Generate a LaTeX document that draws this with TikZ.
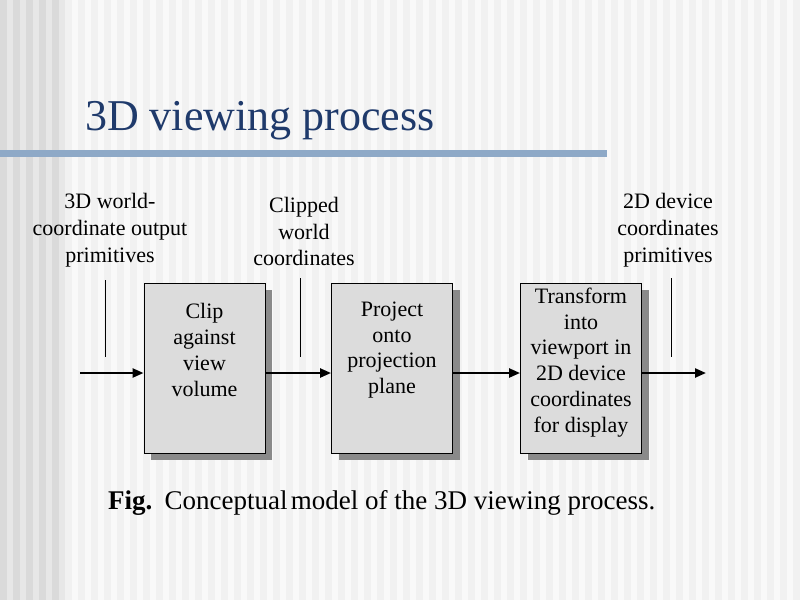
\documentclass[tikz,border=0pt]{standalone}
\usepackage{fontspec}
\setmainfont{Liberation Serif}
\usetikzlibrary{arrows.meta,shadows}
\definecolor{titleblue}{HTML}{1F3A6B}
\definecolor{rulerblue}{HTML}{8EA9C7}
\definecolor{boxfill}{HTML}{DCDCDC}
\definecolor{shadowgray}{HTML}{8A8A8A}
\definecolor{bgA}{HTML}{F1F1F1}
\definecolor{bgB}{HTML}{F9F9F9}
\definecolor{bgC}{HTML}{DADADA}
\definecolor{bgD}{HTML}{E7E7E7}
\tikzset{
  stagebox/.style={draw=black, line width=0.9pt, fill=boxfill, minimum width=121pt, minimum height=170pt, inner sep=0pt,
    drop shadow={shadow xshift=7pt, shadow yshift=-7pt, fill=shadowgray, opacity=1}},
  boxtext/.style={align=center, inner sep=0pt, font=\fontsize{22}{25.8}\selectfont},
  labeltext/.style={align=center, inner sep=0pt, font=\fontsize{22}{26.8}\selectfont},
  flow/.style={line width=2.3pt, -{Triangle[length=11pt,width=9pt]}},
  tick/.style={line width=0.8pt}
}
\begin{document}
\begin{tikzpicture}[x=1pt,y=-1pt]
\useasboundingbox (0,0) rectangle (800,600);
% background
\fill[bgA] (0,0) rectangle (800,600);
\foreach \i in {0,...,61} {\fill[bgB] (\i*13+6.5,0) rectangle ++(6.5,600);}
\fill[bgC] (0,0) rectangle (60,600);
\foreach \i in {0,...,4} {\fill[bgD] (\i*13+6.5,0) rectangle ++(6.5,600);}
% title and rule
\node[anchor=base west, inner sep=0pt, text=titleblue, font=\fontsize{44}{48}\selectfont] (title) at (85,130) {3D viewing process};
\fill[rulerblue] (0,150) rectangle (607,157);
% boxes
\node[stagebox] (b1) at (204.5,368) {};
\node[stagebox] (b2) at (392,368) {};
\node[stagebox] (b3) at (581,368) {};
\node[boxtext] (t1) at (204.5,350) {Clip\\against\\view\\volume};
\node[boxtext] (t2) at (392,350) {Project\\onto\\projection\\plane};
\node[boxtext] (t3) at (581,362.5) {Transform\\into\\viewport in\\2D device\\coordinates\\for display};
% labels
\node[labeltext] (l1) at (110,230) {3D world-\\coordinate output\\primitives};
\node[labeltext] (l2) at (304,231.5) {Clipped\\world\\coordinates};
\node[labeltext] (l3) at (668,230) {2D device\\coordinates\\primitives};
% ticks
\coordinate (v1a) at (105,280); \coordinate (v1b) at (105,357);
\coordinate (v2a) at (300,278); \coordinate (v2b) at (300,357);
\coordinate (v3a) at (671,278); \coordinate (v3b) at (671,357);
\draw[tick] (v1a) -- (v1b);
\draw[tick] (v2a) -- (v2b);
\draw[tick] (v3a) -- (v3b);
% flow arrows
\coordinate (in) at (80,373);
\coordinate (out) at (706,373);
\draw[flow] (in) -- (in -| b1.west);
\draw[flow] (b1.east |- in) -- (b2.west |- in);
\draw[flow] (b2.east |- in) -- (b3.west |- in);
\draw[flow] (b3.east |- in) -- (out);
% caption
\node[anchor=base west, inner sep=0pt, font=\fontsize{27}{31}\selectfont] (cap) at (108,509) {\textbf{Fig.}\hspace{0.45em}Conceptual\hspace{0.12em}model of the 3D viewing process.};
\end{tikzpicture}
\end{document}
